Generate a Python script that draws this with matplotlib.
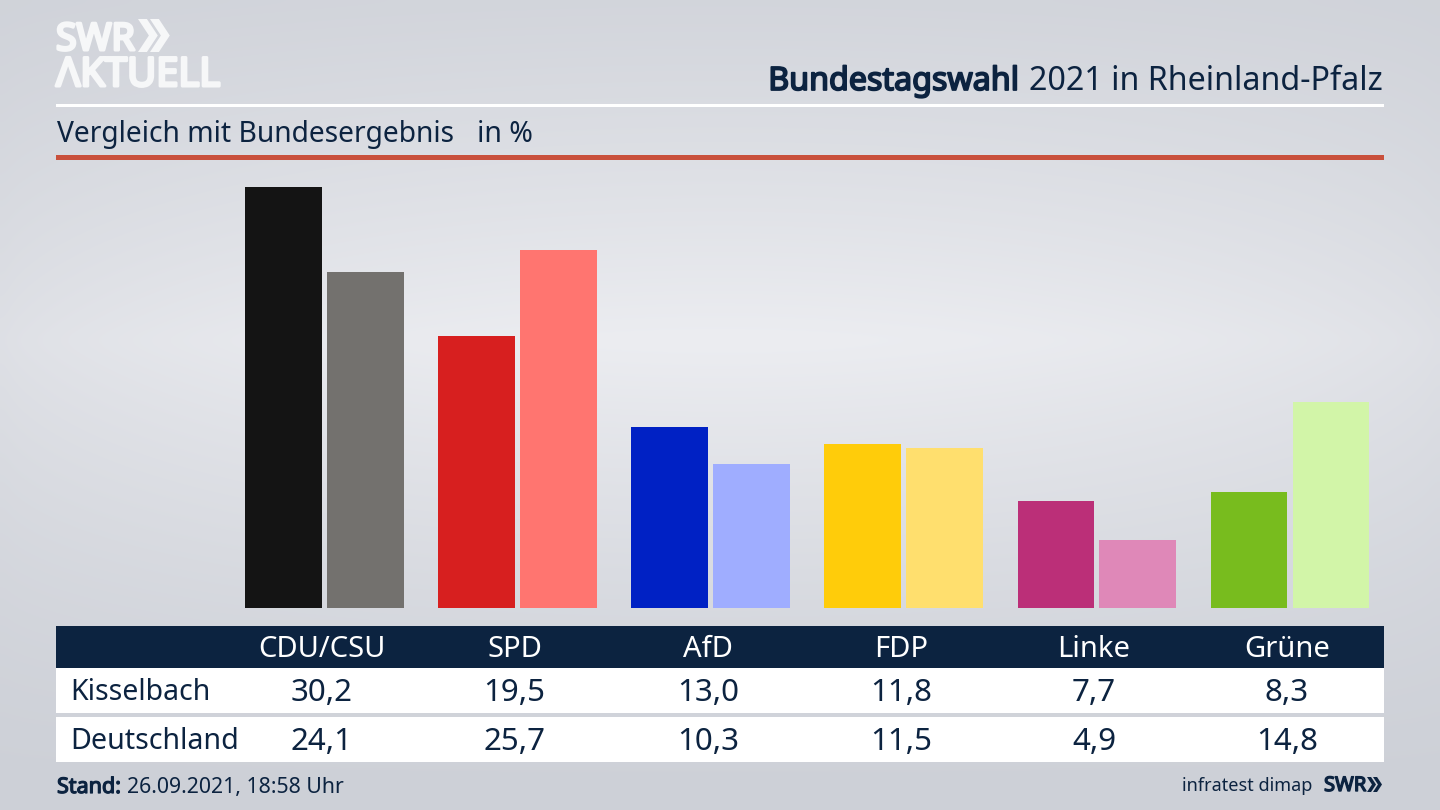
"""SWR Bundestagswahl 2021 comparison chart, Kisselbach vs Deutschland."""

import matplotlib
matplotlib.use("Agg")
import matplotlib.pyplot as plt
import matplotlib.patheffects as pe
from matplotlib.patches import Polygon, Rectangle
import numpy as np

W, H = 1440, 810

parties = ["CDU/CSU", "SPD", "AfD", "FDP", "Linke", "Grüne"]
kisselbach = [30.2, 19.5, 13.0, 11.8, 7.7, 8.3]
deutschland = [24.1, 25.7, 10.3, 11.5, 4.9, 14.8]
kisselbach_labels = ["30,2", "19,5", "13,0", "11,8", "7,7", "8,3"]
deutschland_labels = ["24,1", "25,7", "10,3", "11,5", "4,9", "14,8"]
colors_dark = ["#141414", "#d71f1f", "#0021c4", "#ffcc0a", "#bb2f78", "#78bc1e"]
colors_light = ["#73716e", "#ff7570", "#9fadff", "#ffdf6e", "#df88b8", "#d2f5a8"]

NAVY = "#0c2340"
LOGO = "#f6f7f8"
FONT = "Noto Sans"

plt.rcParams["font.family"] = [FONT, "DejaVu Sans"]

fig = plt.figure(figsize=(W / 100, H / 100), dpi=100)

# pixel-coordinate layer for background, rules, table
bg = fig.add_axes([0, 0, 1, 1])
bg.set_xlim(0, W)
bg.set_ylim(H, 0)
bg.axis("off")

yy, xx = np.mgrid[0:1:90j, 0:1:160j]
shade = np.clip(1 - np.abs(yy - 0.42) / 0.58, 0, 1) ** 1.3
shade = shade * (0.55 + 0.45 * np.sin(np.pi * xx) ** 0.7)
top = np.array([0xcd, 0xd0, 0xd7]) / 255
mid = np.array([0xec, 0xed, 0xf1]) / 255
grad = top + (mid - top) * shade[..., None]
bg.imshow(grad, extent=(0, W, H, 0), aspect="auto", interpolation="bicubic", zorder=0)


def heavy(color, width):
    # the installed Noto Sans only comes in one weight, so thicken with a stroke
    return [pe.withStroke(linewidth=width, foreground=color)]


def chevrons(ax, x, y, h, color, step):
    # the two SWR arrows
    w = h * 0.33
    t = h * 0.27
    for x0 in (x, x + step):
        ax.add_patch(Polygon([(x0, y), (x0 + t, y), (x0 + t + w, y + h / 2),
                              (x0 + t, y + h), (x0, y + h), (x0 + w, y + h / 2)],
                             closed=True, fc=color, ec="none", zorder=3))


# logo
bg.text(56, 50, "SWR", color=LOGO, fontsize=27, va="baseline", ha="left", zorder=3,
        path_effects=heavy(LOGO, 2.2))
chevrons(bg, 138, 19, 33, LOGO, 12)
bg.text(56, 86, "ΛKTUELL", color=LOGO, fontsize=28.7, va="baseline", ha="left", zorder=3,
        path_effects=heavy(LOGO, 2.2))

# header
t1 = bg.text(1383, 90, "2021 in Rheinland-Pfalz", color=NAVY, fontsize=23.2, ha="right",
             va="baseline", zorder=3)
fig.canvas.draw()
left = bg.transData.inverted().transform(t1.get_window_extent().extents[:2])[0]
bg.text(left - 10, 90, "Bundestagswahl", color=NAVY, fontsize=23.2, ha="right", va="baseline",
        zorder=3, path_effects=heavy(NAVY, 1.3))
bg.add_patch(Rectangle((56, 104), 1328, 3, fc="white", ec="none", zorder=2))
bg.text(57, 142, "Vergleich mit Bundesergebnis", color=NAVY, fontsize=20.3, va="baseline", zorder=3)
bg.text(477, 142, "in %", color=NAVY, fontsize=20.5, va="baseline", zorder=3)
bg.add_patch(Rectangle((56, 155), 1328, 5, fc="#c9503c", ec="none", zorder=2))

# table
bg.add_patch(Rectangle((56, 626), 1328, 42, fc=NAVY, ec="none", zorder=2))
bg.add_patch(Rectangle((56, 668), 1328, 45, fc="white", ec="none", zorder=2))
bg.add_patch(Rectangle((56, 717), 1328, 45, fc="white", ec="none", zorder=2))
bg.text(70, 700, "Kisselbach", color=NAVY, fontsize=20.5, va="baseline", zorder=3)
bg.text(70, 749, "Deutschland", color=NAVY, fontsize=20.6, va="baseline", zorder=3)

col_x = [321.5, 514.5, 708, 901, 1094, 1287]
for x, name, a, b in zip(col_x, parties, kisselbach_labels, deutschland_labels):
    bg.text(x, 657, name, color="white", fontsize=21, ha="center", va="baseline", zorder=3)
    bg.text(x, 701, a, color=NAVY, fontsize=22.5, ha="center", va="baseline", zorder=3)
    bg.text(x, 750, b, color=NAVY, fontsize=22.5, ha="center", va="baseline", zorder=3)

# footer
t2 = bg.text(57, 793, "Stand:", color=NAVY, fontsize=15.5, va="baseline", zorder=3,
             path_effects=heavy(NAVY, 0.9))
fig.canvas.draw()
right = bg.transData.inverted().transform(t2.get_window_extent().extents[2:])[0]
bg.text(right + 6, 793, "26.09.2021, 18:58 Uhr", color=NAVY, fontsize=15.3, va="baseline", zorder=3)
bg.text(1312, 791, "infratest dimap", color=NAVY, fontsize=13, ha="right", va="baseline", zorder=3)
bg.text(1324, 791, "SWR", color=NAVY, fontsize=14.5, va="baseline", zorder=3,
        path_effects=heavy(NAVY, 1.0))
chevrons(bg, 1367, 777, 15, NAVY, 6)

# bars, axes runs from the rule edge to edge with y=0 on the table baseline
ax = fig.add_axes([56 / W, 1 - 608 / H, 1328 / W, 421 / H])
ax.patch.set_alpha(0)
ax.set_xlim((56 - 324.5) / 193.1, (1384 - 324.5) / 193.1)
ax.set_ylim(0, 30.2)
ax.axis("off")
pos = np.arange(len(parties))
ax.bar(pos - 0.212, kisselbach, width=0.398, color=colors_dark)
ax.bar(pos + 0.212, deutschland, width=0.398, color=colors_light)

fig.savefig("out.png", dpi=100)
